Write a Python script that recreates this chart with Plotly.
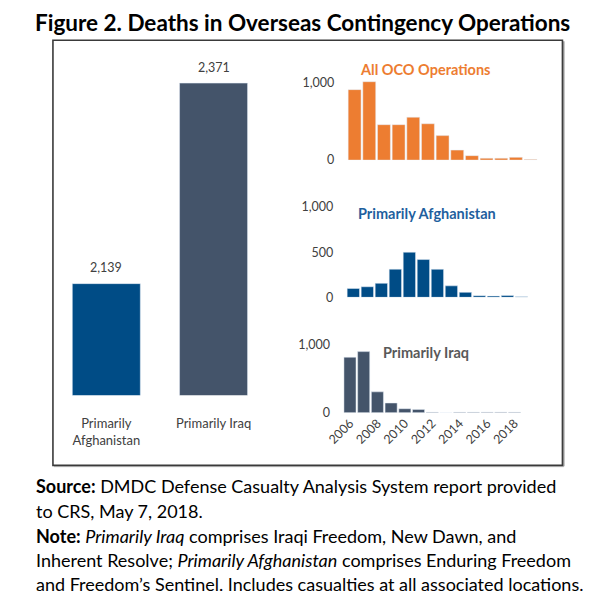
import plotly.graph_objects as go

W, H = 610, 604

def fx(px):
    return px / W

def fy(py):
    return 1 - py / H

# ---------------- data ----------------
totals_cats = ["Primarily Afghanistan", "Primarily Iraq"]
totals_ticktext = ["Primarily<br>Afghanistan", "Primarily Iraq"]
totals_vals = [2139, 2371]

years = [2006, 2007, 2008, 2009, 2010, 2011, 2012, 2013, 2014, 2015, 2016, 2017, 2018]
oco_vals = [915, 1018, 460, 460, 557, 472, 318, 130, 58, 25, 25, 36, 9]
afg_vals = [98, 117, 155, 311, 499, 418, 310, 127, 55, 18, 14, 20, 6]
iraq_vals = [812, 895, 305, 142, 58, 48, 6, 0, 6, 7, 8, 8, 6]

ORANGE = "#ED7D31"
BLUE = "#004C86"
SLATE = "#44546A"
TXT = "#404040"
FONT = "Lato"

fig = go.Figure()

fig.add_trace(go.Bar(
    x=totals_cats, y=totals_vals,
    marker_color=[BLUE, SLATE],
    xaxis="x", yaxis="y", showlegend=False,
))

fig.add_trace(go.Bar(x=years, y=oco_vals, marker_color=ORANGE,
                     xaxis="x2", yaxis="y2", showlegend=False))
fig.add_trace(go.Bar(x=years, y=afg_vals, marker_color=BLUE,
                     xaxis="x3", yaxis="y3", showlegend=False))
fig.add_trace(go.Bar(x=years, y=iraq_vals, marker_color=SLATE,
                     xaxis="x4", yaxis="y4", showlegend=False))

tickfont = dict(size=12.5, color=TXT, family=FONT)

fig.update_layout(
    width=W, height=H,
    margin=dict(l=0, r=0, t=0, b=0),
    paper_bgcolor="white", plot_bgcolor="rgba(0,0,0,0)",
    bargap=0.366,
    xaxis=dict(domain=[fx(35.75), fx(256.75)], type="category",
               tickvals=totals_cats, ticktext=totals_ticktext,
               showgrid=False, zeroline=False, showline=False,
               ticks="outside", ticklen=16, tickcolor="rgba(0,0,0,0)",
               tickfont=dict(size=13, color=TXT, family=FONT), fixedrange=True),
    yaxis=dict(domain=[fy(397), fy(50)], range=[2010, 2401.5],
               visible=False, fixedrange=True),
    xaxis2=dict(domain=[fx(339.3), fx(535.7)], range=[2005.5, 2018.5],
                anchor="y2", visible=False),
    yaxis2=dict(domain=[fy(156), fy(69.1)], range=[0, 1100], anchor="x2",
                tickvals=[0, 1000], tickformat=",", showgrid=False,
                zeroline=False, showline=False, tickfont=tickfont,
                ticklabelstandoff=12),
    xaxis3=dict(domain=[fx(338.3), fx(526)], range=[2005.5, 2018.5],
                anchor="y3", visible=False),
    yaxis3=dict(domain=[fy(296.7), fy(204)], range=[0, 1000], anchor="x3",
                tickvals=[0, 500, 1000], tickformat=",", showgrid=False,
                zeroline=False, showline=False, tickfont=tickfont,
                ticklabelstandoff=12),
    xaxis4=dict(domain=[fx(335), fx(518.7)], range=[2005.5, 2018.5],
                anchor="y4", tickvals=[2006, 2008, 2010, 2012, 2014, 2016, 2018],
                tickangle=-45, showgrid=False, zeroline=False, showline=False,
                tickfont=tickfont, ticks=""),
    yaxis4=dict(domain=[fy(415), fy(345)], range=[0, 1000], anchor="x4",
                tickvals=[0, 1000], tickformat=",", showgrid=False,
                zeroline=False, showline=False, tickfont=tickfont,
                ticklabelstandoff=12),
)

for tr in fig.data[1:]:
    tr.width = 0.88

# frame with slight shadow on right/bottom
fig.add_shape(type="rect", xref="paper", yref="paper",
              x0=fx(36), x1=fx(561), y0=fy(469), y1=fy(33),
              line=dict(color="#3A3A3A", width=1.6), fillcolor="rgba(0,0,0,0)")
fig.add_shape(type="line", xref="paper", yref="paper",
              x0=fx(562.3), x1=fx(562.3), y0=fy(470), y1=fy(34),
              line=dict(color="#8A8A8A", width=1.5))
fig.add_shape(type="line", xref="paper", yref="paper",
              x0=fx(37), x1=fx(562.3), y0=fy(470.3), y1=fy(470.3),
              line=dict(color="#A0A0A0", width=1))

ann = []
for c, v in zip(totals_cats, totals_vals):
    ann.append(dict(text=f"{v:,}", x=c, y=v, xref="x", yref="y",
                    yanchor="middle", yshift=16, showarrow=False,
                    font=dict(size=12.5, color=TXT, family=FONT)))

ann.append(dict(text="<b>Figure 2. Deaths in Overseas Contingency Operations</b>",
                x=fx(15), y=fy(15), xanchor="left", yanchor="middle",
                font=dict(size=22.5, color="black", family=FONT)))
ann.append(dict(text="<b>All OCO Operations</b>", x=fx(419), y=fy(62.7),
                xanchor="center", yanchor="middle",
                font=dict(size=14.5, color=ORANGE, family=FONT)))
ann.append(dict(text="<b>Primarily Afghanistan</b>", x=fx(421), y=fy(210.7),
                xanchor="center", yanchor="middle",
                font=dict(size=14.5, color="#1F5F9E", family=FONT)))
ann.append(dict(text="<b>Primarily Iraq</b>", x=fx(420.3), y=fy(353.3),
                xanchor="center", yanchor="middle",
                font=dict(size=14.5, color="#595959", family=FONT)))

src_lines = [
    ("<b>Source:</b> DMDC Defense Casualty Analysis System report provided", 490),
    ("to CRS, May 7, 2018.", 516),
    ("<b>Note:</b> <i>Primarily Iraq</i> comprises Iraqi Freedom, New Dawn, and", 541),
    ("Inherent Resolve; <i>Primarily Afghanistan</i> comprises Enduring Freedom", 566),
    ("and Freedom\u2019s Sentinel. Includes casualties at all associated locations.", 591),
]
for t, py in src_lines:
    ann.append(dict(text=t, x=fx(16), y=fy(py), xanchor="left", yanchor="middle",
                    font=dict(size=18, color="black", family=FONT),
                    xref="paper", yref="paper", showarrow=False))

for a in ann:
    a.setdefault("xref", "paper")
    a.setdefault("yref", "paper")
    a["showarrow"] = False
fig.update_layout(annotations=ann)

fig.write_html("out.html", config={"displayModeBar": False},
               post_script="document.documentElement.style.margin='0';"
                           "document.body.style.margin='0';"
                           "document.body.style.overflow='hidden';")
